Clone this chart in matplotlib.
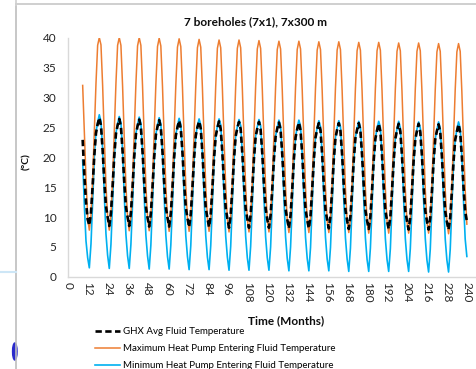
import matplotlib
matplotlib.use("Agg")
import matplotlib.pyplot as plt
from matplotlib.lines import Line2D
from matplotlib.patches import Ellipse

plt.rcParams['font.family'] = ['Lato', 'DejaVu Sans']

# months 9..240
months = list(range(9, 241))

# Maximum heat pump entering fluid temperature (degC)
orange_head = [32.0, 24.0, 16.5]
orange_years = [
    [10.0, 7.8, 10.3, 16.2, 24.3, 32.3, 38.7, 40.0, 38.8, 32.0, 23.4, 15.4],
    [10.0, 7.8, 10.3, 16.2, 24.3, 32.3, 38.7, 40.0, 38.7, 31.9, 23.3, 15.3],
    [9.9, 7.7, 10.2, 16.1, 24.2, 32.2, 38.6, 40.0, 38.7, 31.9, 23.3, 15.3],
    [9.9, 7.7, 10.2, 16.1, 24.2, 32.1, 38.5, 39.9, 38.6, 31.8, 23.2, 15.2],
    [9.8, 7.6, 10.1, 16.0, 24.1, 32.0, 38.4, 39.8, 38.5, 31.7, 23.1, 15.2],
    [9.8, 7.6, 10.1, 16.0, 24.0, 31.9, 38.3, 39.7, 38.4, 31.6, 23.0, 15.1],
    [9.7, 7.6, 10.0, 15.9, 24.0, 31.9, 38.2, 39.6, 38.3, 31.5, 23.0, 15.1],
    [9.7, 7.5, 10.0, 15.9, 23.9, 31.8, 38.2, 39.6, 38.3, 31.5, 22.9, 15.0],
    [9.6, 7.5, 9.9, 15.8, 23.9, 31.8, 38.1, 39.5, 38.2, 31.4, 22.9, 15.0],
    [9.6, 7.5, 9.9, 15.8, 23.8, 31.7, 38.0, 39.4, 38.1, 31.3, 22.8, 14.9],
    [9.5, 7.4, 9.8, 15.7, 23.8, 31.7, 38.0, 39.4, 38.1, 31.3, 22.8, 14.9],
    [9.5, 7.4, 9.8, 15.7, 23.7, 31.6, 37.9, 39.3, 38.0, 31.2, 22.7, 14.8],
    [9.4, 7.4, 9.7, 15.6, 23.7, 31.6, 37.9, 39.3, 38.0, 31.2, 22.7, 14.8],
    [9.4, 7.4, 9.7, 15.6, 23.6, 31.5, 37.8, 39.2, 37.9, 31.1, 22.6, 14.7],
    [9.3, 7.3, 9.6, 15.5, 23.6, 31.5, 37.8, 39.2, 37.9, 31.1, 22.6, 14.7],
    [9.3, 7.3, 9.6, 15.5, 23.5, 31.4, 37.7, 39.1, 37.8, 31.0, 22.5, 14.6],
    [9.2, 7.3, 9.5, 15.4, 23.5, 31.4, 37.7, 39.1, 37.8, 31.0, 22.5, 14.6],
    [9.2, 7.3, 9.5, 15.4, 23.4, 31.3, 37.6, 39.0, 37.7, 30.9, 22.4, 14.5],
    [9.1, 7.2, 9.4, 15.4, 23.4, 31.3, 37.6, 39.0, 37.7, 30.9, 22.4, 14.5],
]
orange_tail = [8.8]

# Minimum heat pump entering fluid temperature (degC)
blue_head = [19.5, 12.0, 6.0]
blue_years = [
    [3.2, 1.5, 5.5, 12.5, 20.0, 24.2, 25.8, 27.1, 26.0, 21.3, 13.8, 7.2],
    [3.6, 1.4, 5.4, 12.4, 19.9, 24.0, 25.6, 26.8, 25.8, 21.1, 13.6, 7.1],
    [3.5, 1.4, 5.4, 12.3, 19.8, 23.9, 25.5, 26.7, 25.7, 21.0, 13.5, 7.0],
    [3.5, 1.3, 5.3, 12.3, 19.7, 23.8, 25.4, 26.6, 25.6, 20.9, 13.5, 7.0],
    [3.4, 1.3, 5.3, 12.2, 19.6, 23.7, 25.3, 26.5, 25.5, 20.8, 13.4, 6.9],
    [3.4, 1.2, 5.2, 12.2, 19.6, 23.7, 25.2, 26.4, 25.4, 20.8, 13.4, 6.9],
    [3.3, 1.2, 5.2, 12.1, 19.5, 23.6, 25.2, 26.4, 25.4, 20.7, 13.3, 6.8],
    [3.3, 1.1, 5.1, 12.1, 19.5, 23.6, 25.1, 26.3, 25.3, 20.7, 13.3, 6.8],
    [3.2, 1.1, 5.1, 12.0, 19.4, 23.5, 25.1, 26.3, 25.3, 20.6, 13.2, 6.7],
    [3.2, 1.1, 5.0, 12.0, 19.4, 23.5, 25.0, 26.2, 25.2, 20.6, 13.2, 6.7],
    [3.1, 1.0, 5.0, 11.9, 19.3, 23.4, 25.0, 26.2, 25.2, 20.5, 13.1, 6.6],
    [3.1, 1.0, 4.9, 11.9, 19.3, 23.4, 24.9, 26.1, 25.1, 20.5, 13.1, 6.6],
    [3.0, 1.0, 4.9, 11.8, 19.2, 23.3, 24.9, 26.1, 25.1, 20.4, 13.0, 6.5],
    [3.0, 0.9, 4.8, 11.8, 19.2, 23.3, 24.8, 26.0, 25.0, 20.4, 13.0, 6.5],
    [2.9, 0.9, 4.8, 11.7, 19.1, 23.2, 24.8, 26.0, 25.0, 20.3, 12.9, 6.4],
    [2.9, 0.9, 4.7, 11.7, 19.1, 23.2, 24.7, 26.0, 24.9, 20.3, 12.9, 6.4],
    [2.9, 0.9, 4.7, 11.6, 19.0, 23.1, 24.7, 25.9, 24.9, 20.2, 12.8, 6.4],
    [2.8, 0.8, 4.6, 11.6, 19.0, 23.1, 24.6, 25.9, 24.8, 20.2, 12.8, 6.3],
    [2.8, 0.8, 4.6, 11.6, 18.9, 23.0, 24.6, 25.9, 24.8, 20.1, 12.7, 6.3],
]
blue_tail = [3.4]

# GHX average fluid temperature (degC)
black_head = [22.9, 17.0, 12.5]
black_years = [
    [9.6, 8.6, 10.8, 15.2, 20.3, 24.0, 25.5, 26.6, 25.3, 21.2, 16.0, 11.8],
    [10.0, 8.5, 10.7, 15.1, 20.2, 23.9, 25.3, 26.4, 25.1, 21.0, 15.9, 11.7],
    [10.0, 8.5, 10.7, 15.0, 20.1, 23.8, 25.2, 26.3, 25.0, 20.9, 15.8, 11.7],
    [9.9, 8.4, 10.6, 15.0, 20.0, 23.7, 25.1, 26.2, 24.9, 20.9, 15.8, 11.6],
    [9.9, 8.4, 10.6, 14.9, 20.0, 23.6, 25.0, 26.1, 24.8, 20.8, 15.7, 11.6],
    [9.8, 8.3, 10.5, 14.9, 19.9, 23.6, 25.0, 26.0, 24.8, 20.7, 15.7, 11.5],
    [9.8, 8.3, 10.5, 14.8, 19.9, 23.5, 24.9, 26.0, 24.7, 20.7, 15.6, 11.5],
    [9.7, 8.2, 10.4, 14.8, 19.8, 23.5, 24.9, 25.9, 24.7, 20.6, 15.6, 11.4],
    [9.7, 8.2, 10.4, 14.7, 19.8, 23.4, 24.8, 25.9, 24.6, 20.6, 15.5, 11.4],
    [9.6, 8.2, 10.3, 14.7, 19.7, 23.4, 24.8, 25.8, 24.6, 20.5, 15.5, 11.3],
    [9.6, 8.1, 10.3, 14.6, 19.7, 23.3, 24.7, 25.8, 24.5, 20.5, 15.4, 11.3],
    [9.5, 8.1, 10.2, 14.6, 19.6, 23.3, 24.7, 25.7, 24.5, 20.4, 15.4, 11.2],
    [9.5, 8.1, 10.2, 14.6, 19.6, 23.2, 24.6, 25.7, 24.4, 20.4, 15.3, 11.2],
    [9.4, 8.0, 10.1, 14.5, 19.5, 23.2, 24.6, 25.7, 24.4, 20.3, 15.3, 11.1],
    [9.4, 8.0, 10.1, 14.5, 19.5, 23.1, 24.5, 25.6, 24.3, 20.3, 15.2, 11.1],
    [9.4, 8.0, 10.0, 14.4, 19.4, 23.1, 24.5, 25.6, 24.3, 20.2, 15.2, 11.0],
    [9.3, 7.9, 10.0, 14.4, 19.4, 23.0, 24.4, 25.6, 24.2, 20.2, 15.1, 11.0],
    [9.3, 7.9, 9.9, 14.3, 19.3, 23.0, 24.4, 25.5, 24.2, 20.1, 15.1, 10.9],
    [9.2, 7.9, 9.9, 14.3, 19.3, 22.9, 24.3, 25.5, 24.1, 20.1, 15.0, 10.9],
]
black_tail = [9.3]

x_ticks = list(range(0, 241, 12))
y_ticks = [0, 5, 10, 15, 20, 25, 30, 35, 40]

labels = ["GHX Avg Fluid Temperature",
          "Maximum Heat Pump Entering Fluid Temperature",
          "Minimum Heat Pump Entering Fluid Temperature"]


def flatten(head, years, tail):
    out = list(head)
    for row in years:
        out.extend(row)
    out.extend(tail)
    return out


orange = flatten(orange_head, orange_years, orange_tail)
blue = flatten(blue_head, blue_years, blue_tail)
black = flatten(black_head, black_years, black_tail)

W, H = 477, 369
fig = plt.figure(figsize=(W / 100, H / 100), dpi=100)
fig.patch.set_facecolor("white")


def fx(px):
    return px / W


def fy(py):
    return 1 - py / H


ax = fig.add_axes([fx(67.7), fy(276.8), 1 - fx(67.7), fy(37.6) - fy(276.8)])

l_blue, = ax.plot(months, blue, color="#00b0f0", lw=1.2, zorder=2)
l_orange, = ax.plot(months, orange, color="#ed7d31", lw=1.1, zorder=3)
l_black, = ax.plot(months, black, color="black", lw=1.9, zorder=4,
                   dashes=(2.4, 1.3))

ax.set_xlim(0, 246.1)
ax.set_ylim(0, 40)
ax.set_xticks(x_ticks)
ax.set_yticks(y_ticks)
ax.tick_params(length=0, labelsize=8.5, labelcolor="#262626")
ax.tick_params(axis="y", pad=8)
ax.tick_params(axis="x", pad=4, labelrotation=-90)
for s in ("top", "right"):
    ax.spines[s].set_visible(False)
for s in ("left", "bottom"):
    ax.spines[s].set_color("#d9d9d9")
    ax.spines[s].set_linewidth(1.0)

fig.text(fx(256), fy(21.7), "7 boreholes (7x1), 7x300 m", ha="center",
         va="center", fontsize=8.6, fontweight="bold", color="#0d0d0d")
fig.text(fx(27), fy(162), "(°C)", ha="center", va="center", rotation=90,
         fontsize=7.5, fontweight="bold", color="#0d0d0d")
fig.text(fx(286), fy(320.7), "Time (Months)", ha="center", va="center",
         fontsize=8.5, fontweight="bold", color="#0d0d0d")

fig.legend([l_black, l_orange, l_blue], labels, loc="upper left",
           bbox_to_anchor=(fx(95), fy(327.5)), frameon=False, fontsize=7,
           handlelength=2.6, handletextpad=0.25, labelspacing=0.82,
           borderpad=0, borderaxespad=0)

# screenshot borders around the chart
fig.add_artist(Line2D([fx(16.5), 1], [fy(3.5), fy(3.5)], color="#cfcfcf", lw=1.4))
fig.add_artist(Line2D([fx(16.5), fx(16.5)], [fy(0), fy(3.5)], color="#cfcfcf", lw=1.2))
fig.add_artist(Ellipse((fx(14.8), fy(351.5)), 4.5 / W, 17 / H, color="#2a2acc", zorder=1))
fig.add_artist(Line2D([fx(16.5), fx(16.5)], [fy(6), fy(H)], color="#bdbdbd", lw=1.2, zorder=2))
fig.add_artist(Line2D([0, fx(16)], [fy(272.3), fy(272.3)], color="#cde6f6", lw=1.5))

fig.savefig("out.png", dpi=100)
